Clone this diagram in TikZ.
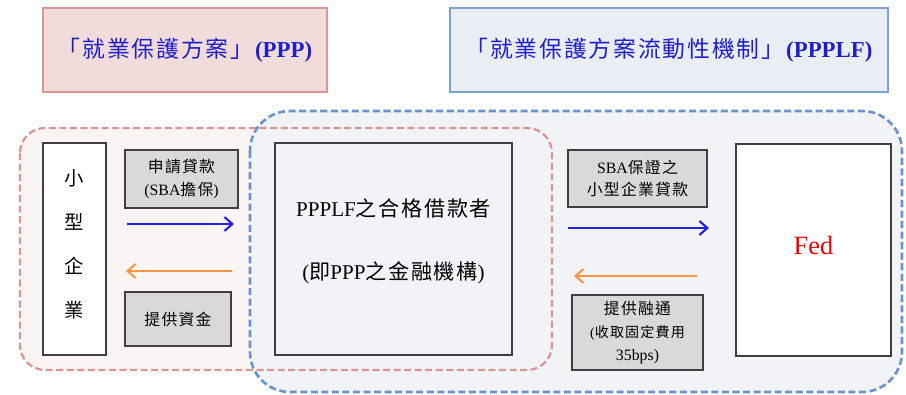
\documentclass[tikz,border=0pt]{standalone}
\usepackage{fontspec}
\setmainfont{Liberation Serif}
\newfontfamily\zhfont[LetterSpace=8]{Noto Sans CJK TC}
\newcommand{\zh}[1]{{\zhfont #1}}
\usepackage{tikz}
\usetikzlibrary{arrows.meta,positioning}
\definecolor{pinkline}{HTML}{D99694}
\definecolor{pinkfill}{HTML}{F2DCDB}
\definecolor{pinkback}{HTML}{FBF4F4}
\definecolor{blueline}{HTML}{7FA1D0}
\definecolor{bluefill}{HTML}{E9EDF6}
\definecolor{blueback}{HTML}{F2F3F7}
\definecolor{dashblue}{HTML}{6A93CC}
\definecolor{titleblue}{HTML}{1F1FC8}
\definecolor{flowblue}{HTML}{2222DD}
\definecolor{floworange}{HTML}{F79646}
\definecolor{boxgray}{HTML}{D9D9D9}

\begin{document}
\begin{tikzpicture}[
    x=0.02cm,y=-0.02cm,
    box/.style={draw=black!75,rectangle,line width=0.8pt,inner sep=0pt,align=center},
    graybox/.style={box,fill=boxgray,font=\fontsize{9}{13}\selectfont},
    title/.style={rectangle,line width=1pt,inner sep=0pt,minimum height=1.68cm,
        text=titleblue,font=\fontsize{13}{15}\selectfont},
    flow/.style={line width=1.2pt,-{Straight Barb[length=1.6mm,width=2.8mm]}},
    >=Stealth
]
\useasboundingbox (0,0) rectangle (906,395);
% program titles
\node[title,draw=pinkline,fill=pinkfill,minimum width=5.68cm] (ppp) at (185,50)
    {\zh{「就業保護方案」}\textbf{(PPP)}};
\node[title,draw=blueline,fill=bluefill,minimum width=8.76cm] (ppplf) at (669,50)
    {\zh{「就業保護方案流動性機制」}\textbf{(PPPLF)}};
% dashed regions
\fill[pinkback,rounded corners=0.5cm] (20,128) rectangle (552,370);
\fill[blueback,rounded corners=0.8cm] (250,111) rectangle (902,392);
\draw[pinkline,line width=1.3pt,dash pattern=on 4pt off 2pt,rounded corners=0.5cm]
    (20,128) rectangle (552,370);
\draw[dashblue,line width=1.5pt,dash pattern=on 4pt off 2pt,rounded corners=0.8cm]
    (250,111) rectangle (902,392);
% parties
\node[box,fill=white,minimum width=1.26cm,minimum height=4.24cm,
    label={[align=center,yshift=0.1cm,font=\fontsize{11}{25}\selectfont]center:
    \zh{小}\\\zh{型}\\\zh{企}\\\zh{業}}] (firm) at (74.5,249) {};
\node[box,minimum width=4.74cm,minimum height=4.24cm,
    label={[align=center,yshift=0.16cm,font=\fontsize{12}{36}\selectfont]center:
    PPPLF\zh{之合格借款者}\\(\zh{即}PPP\zh{之金融機構})}] (lender) at (393.5,249) {};
\node[box,fill=white,minimum width=3.1cm,minimum height=4.24cm,
    label={[yshift=0.1cm,text=red!90!black,font=\fontsize{15}{18}\selectfont]center:Fed}]
    (fed) at (813.5,250) {};
% flow labels
\node[graybox,minimum width=2.26cm,minimum height=1.16cm] (apply) at (181.5,179)
    {\zh{申請貸款}\\(SBA\zh{擔保})};
\node[graybox,minimum width=2.12cm,minimum height=1.08cm] (fund) at (178,319)
    {\zh{提供資金}};
\node[graybox,minimum width=2.78cm,minimum height=1.14cm] (loans) at (637.5,178.5)
    {SBA\zh{保證之}\\\zh{小型企業貸款}};
\node[graybox,minimum width=2.62cm,minimum height=1.5cm] (facility) at (637.5,332.5)
    {\zh{提供融通}\\{\fontsize{8}{11}\selectfont(\zh{收取固定費用}}\\35bps)};
% arrows
\coordinate (req0) at (127,224);
\coordinate (req1) at (234,224);
\coordinate (pay0) at (232,271);
\coordinate (pay1) at (126,271);
\coordinate (sell0) at (568,228);
\coordinate (sell1) at (709,228);
\coordinate (lend0) at (697,276);
\coordinate (lend1) at (574,276);
\draw[flow,flowblue] (req0) -- (req1);
\draw[flow,floworange] (pay0) -- (pay1);
\draw[flow,flowblue] (sell0) -- (sell1);
\draw[flow,floworange] (lend0) -- (lend1);
\end{tikzpicture}
\end{document}
